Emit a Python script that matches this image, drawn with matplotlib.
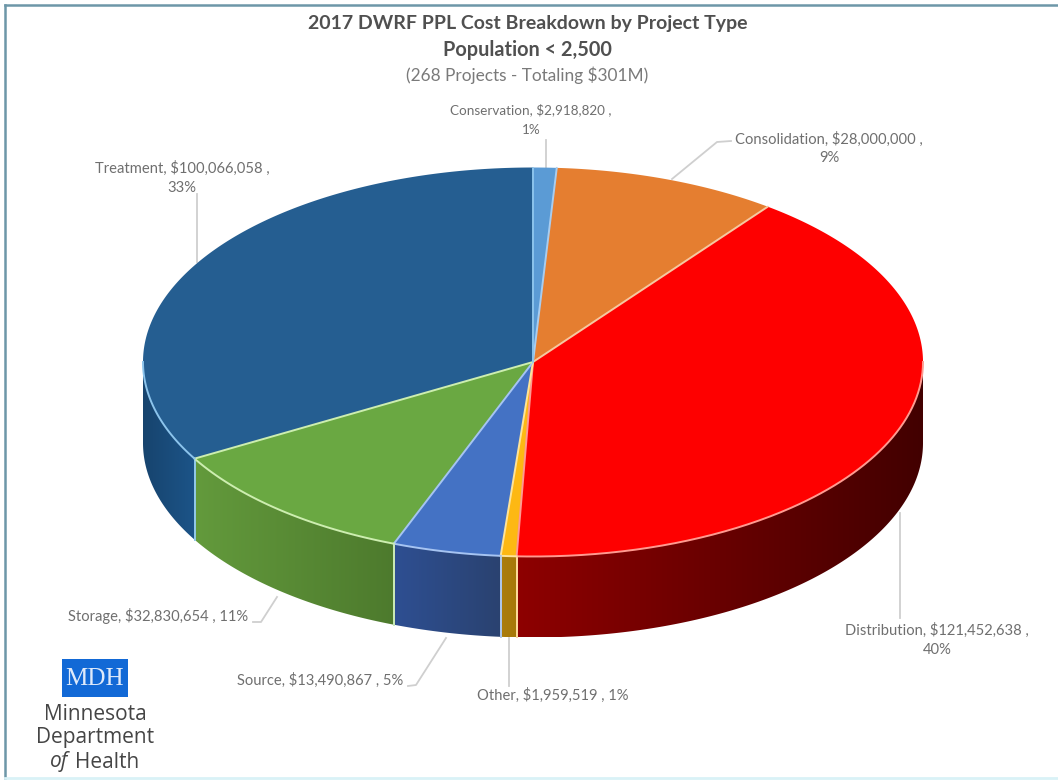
import numpy as np
import matplotlib
matplotlib.use("Agg")
import matplotlib.pyplot as plt
from matplotlib.patches import Polygon, Rectangle

plt.rcParams["font.family"] = ["Lato", "DejaVu Sans"]

# Cost by project type, clockwise from the top of the pie
categories = ["Conservation", "Consolidation", "Distribution", "Other", "Source", "Storage", "Treatment"]
costs = [2918820, 28000000, 121452638, 1959519, 13490867, 32830654, 100066058]
percents = ["1%", "9%", "40%", "1%", "5%", "11%", "33%"]

top_colors = ["#5b9bd5", "#e57e30", "#fe0000", "#fdb813", "#4472c4", "#6aa842", "#255e91"]
# side wall shading, left end then right end
side_colors = {
    "Distribution": ("#8e0000", "#420000"),
    "Other": ("#ab7d0c", "#a67808"),
    "Source": ("#2e4f92", "#2a4270"),
    "Storage": ("#639a3c", "#4d7a2d"),
    "Treatment": ("#17446e", "#1c5488"),
}
edge_colors = ["#a8cdf0", "#f6c8a0", "#ff9a90", "#fde39a", "#a6c4f2", "#cdeeb0", "#8cc4ec"]

# label text layout: x and y of the first line, wrap flag, font size
label_pos = {
    "Conservation": (531, 110, True, 9.7),
    "Consolidation": (829, 139, True, 10.6),
    "Distribution": (937, 630, True, 10.6),
    "Other": (553, 695, False, 10.6),
    "Source": (320, 680, False, 10.6),
    "Storage": (158, 616, False, 10.6),
    "Treatment": (182, 168, True, 10.6),
}
leaders = {
    "Conservation": [(546, 140), (546, 168)],
    "Consolidation": [(731, 141), (717, 142), (672, 179)],
    "Distribution": [(900, 513), (900, 618)],
    "Other": [(509, 638), (509, 686)],
    "Source": [(408, 686), (416, 685), (446, 638)],
    "Storage": [(253, 622), (261, 622), (277, 597)],
    "Treatment": [(197, 194), (197, 262)],
}

CX, CY = 533, 362
RX, RY = 390, 194.5
DEPTH = 81
LINE_GAP = 19.5


def rim(theta, drop=0.0):
    # theta in degrees, clockwise from the top of the ellipse
    t = np.radians(theta)
    return CX + RX * np.sin(t), CY - RY * np.cos(t) + drop


def mix(c1, c2, f):
    a = np.array(matplotlib.colors.to_rgb(c1))
    b = np.array(matplotlib.colors.to_rgb(c2))
    return a + (b - a) * f


fig = plt.figure(figsize=(10.58, 7.8), dpi=100, facecolor="white")
ax = fig.add_axes([0, 0, 1, 1])
ax.axis("off")

# frame along the top and left, faint along the bottom
ax.plot([5, 1058], [5, 5], color="#6d97a8", lw=1.8, zorder=1)
ax.plot([5, 5], [5, 780], color="#6d97a8", lw=1.8, zorder=1)
ax.plot([5, 1058], [778, 778], color="#d9f2f7", lw=2, zorder=1)

shares = np.array(costs) / np.sum(costs) * 360
ends = np.cumsum(shares)
starts = ends - shares

# side walls only show along the front half
for name, a, b, edge in zip(categories, starts, ends, edge_colors):
    lo, hi = max(a, 90), min(b, 270)
    if lo >= hi or name not in side_colors:
        continue
    left, right = side_colors[name]
    th = np.linspace(lo, hi, 200)
    xs, ys = rim(th)
    outline = np.column_stack([np.r_[xs, xs[::-1]], np.r_[ys, ys[::-1] + DEPTH]])
    clip = Polygon(outline, closed=True, fc="none", ec="none", transform=ax.transData)
    ax.add_patch(clip)
    ramp = np.array([mix(left, right, f) for f in np.linspace(0, 1, 256)])[np.newaxis, :, :]
    im = ax.imshow(ramp, extent=[xs.min(), xs.max(), ys.max() + DEPTH, ys.min()],
                   aspect="auto", interpolation="bilinear", zorder=2)
    im.set_clip_path(clip)
    # vertical seams between neighbouring walls
    for t, show in ((b, b < 270), (a, a > 90)):
        if show:
            x, y = rim(t)
            ax.plot([x, x], [y, y + DEPTH], color=edge, lw=1.3, zorder=3)

# top face of each slice
for a, b, top in zip(starts, ends, top_colors):
    th = np.linspace(a, b, max(int(b - a) * 2, 3))
    xs, ys = rim(th)
    pts = np.column_stack([np.r_[CX, xs], np.r_[CY, ys]])
    ax.add_patch(Polygon(pts, closed=True, fc=top, ec="none", zorder=4))

# light seams between slices and around the front rim
for a, b, edge in zip(starts, ends, edge_colors):
    x, y = rim(b)
    ax.plot([CX, x], [CY, y], color=edge, lw=1.4, zorder=5, solid_capstyle="round")
    lo, hi = max(a, 90), min(b, 270)
    if lo < hi:
        xs, ys = rim(np.linspace(lo, hi, max(int(hi - lo) * 2, 3)))
        ax.plot(xs, ys, color=edge, lw=1.4, zorder=5)

# leader lines and data labels
for name, cost, pct in zip(categories, costs, percents):
    xs, ys = zip(*leaders[name])
    ax.plot(xs, ys, color="#cfcfcf", lw=1.3, zorder=1.5)
    x, y, wrap, size = label_pos[name]
    if wrap:
        ax.text(x, y, f"{name}, ${cost:,} ,", ha="center", va="center", fontsize=size,
                color="#6f6f6f", zorder=6)
        ax.text(x, y + LINE_GAP, pct, ha="center", va="center", fontsize=size,
                color="#6f6f6f", zorder=6)
    else:
        ax.text(x, y, f"{name}, ${cost:,} , {pct}", ha="center", va="center", fontsize=size,
                color="#6f6f6f", zorder=6)

# chart title
ax.text(527.5, 24, "2017 DWRF PPL Cost Breakdown by Project Type", ha="center", va="center",
        fontsize=14, fontweight="bold", color="#505050")
ax.text(527.5, 50, "Population < 2,500", ha="center", va="center",
        fontsize=14.3, fontweight="bold", color="#505050")
ax.text(527.5, 75, "(268 Projects - Totaling $301M)", ha="center", va="center",
        fontsize=12.4, color="#7a7a7a")

# department logo, bottom left
ax.add_patch(Rectangle((62, 659), 66, 38, fc="#1269d6", ec="none", zorder=6))
ax.text(95, 679, "MDH", ha="center", va="center", fontsize=18, color="#dfeafa",
        family=["Liberation Serif", "DejaVu Serif"], zorder=7)
ax.text(95, 714, "Minnesota", ha="center", va="center", fontsize=15, color="#454545",
        family=["Open Sans", "DejaVu Sans"], zorder=7)
ax.text(95, 738, "Department", ha="center", va="center", fontsize=15, color="#454545",
        family=["Open Sans", "DejaVu Sans"], zorder=7)
ax.text(59, 762, "of", ha="center", va="center", fontsize=15, color="#454545", style="italic",
        family=["Open Sans", "DejaVu Sans"], zorder=7)
ax.text(107, 762, "Health", ha="center", va="center", fontsize=15, color="#454545",
        family=["Open Sans", "DejaVu Sans"], zorder=7)

ax.set_xlim(0, 1058)
ax.set_ylim(780, 0)

fig.savefig("out.png", dpi=100)
